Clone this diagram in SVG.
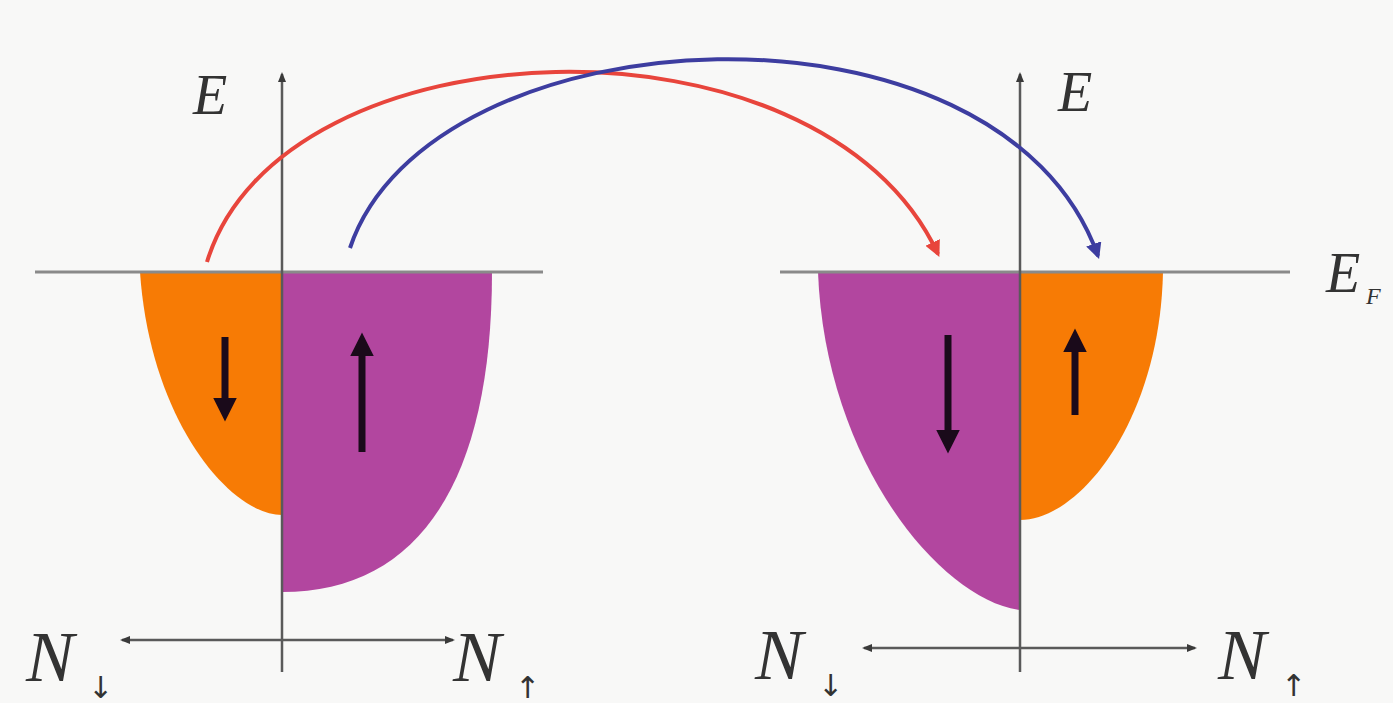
<svg xmlns="http://www.w3.org/2000/svg" width="1393" height="703" viewBox="0 0 1393 703">
<defs>
<style>
.bg{fill:#f8f8f7}
.orange{fill:#f77b05}
.purple{fill:#b2469f}
.axis{stroke:#5a5a5a;stroke-width:2.5;fill:none}
.fermi{stroke:#8a8a8a;stroke-width:3;fill:none}
.spin{stroke:#1a0a1a;stroke-width:7;fill:none}
.lbl{font-family:"Liberation Serif","DejaVu Serif",serif;font-style:italic;fill:#333}
.sub{font-family:"DejaVu Sans",sans-serif;fill:#333}
</style>
<marker id="ax" viewBox="0 0 10 10" refX="8" refY="5" markerWidth="4" markerHeight="4" orient="auto-start-reverse"><path d="M0,1 L10,5 L0,9 z" fill="#3a3a3a"/></marker>
<marker id="red" viewBox="0 0 10 10" refX="8" refY="5" markerWidth="4" markerHeight="4" orient="auto"><path d="M0,0 L10,5 L0,10 z" fill="#e8453c"/></marker>
<marker id="blue" viewBox="0 0 10 10" refX="8" refY="5" markerWidth="4" markerHeight="4" orient="auto"><path d="M0,0 L10,5 L0,10 z" fill="#3d3da0"/></marker>
<marker id="sp" viewBox="0 0 10 10" refX="6" refY="5" markerWidth="3.4" markerHeight="3.4" orient="auto"><path d="M0,0 L10,5 L0,10 z" fill="#1a0a1a"/></marker>
</defs>
<rect class="bg" x="0" y="0" width="1393" height="703"/>

<g id="left-band">
<path class="orange" d="M282,515 C230,515 150,420 140,272 L282,272 Z"/>
<path class="purple" d="M282,592 C420,592 492,480 492,272 L282,272 Z"/>
<line class="spin" x1="225" y1="337" x2="225" y2="412" marker-end="url(#sp)"/>
<line class="spin" x1="362" y1="452" x2="362" y2="342" marker-end="url(#sp)"/>
<line class="fermi" x1="35" y1="272" x2="543" y2="272"/>
<line class="axis" x1="282" y1="672" x2="282" y2="74" marker-end="url(#ax)"/>
<line class="axis" x1="122" y1="640" x2="453" y2="640" marker-start="url(#ax)" marker-end="url(#ax)"/>
<text class="lbl" x="193" y="114" font-size="56">E</text>
<text class="lbl" x="26" y="681" font-size="72">N</text>
<text class="sub" x="88" y="698" font-size="30">↓</text>
<text class="lbl" x="453" y="681" font-size="72">N</text>
<text class="sub" x="515" y="698" font-size="30">↑</text>
</g>

<g id="right-band">
<path class="purple" d="M1020,610 C940,600 825,460 818,272 L1020,272 Z"/>
<path class="orange" d="M1020,520 C1080,520 1160,420 1163,272 L1020,272 Z"/>
<line class="spin" x1="948" y1="335" x2="948" y2="444" marker-end="url(#sp)"/>
<line class="spin" x1="1075" y1="415" x2="1075" y2="338" marker-end="url(#sp)"/>
<line class="fermi" x1="780" y1="272" x2="1290" y2="272"/>
<line class="axis" x1="1020" y1="672" x2="1020" y2="74" marker-end="url(#ax)"/>
<line class="axis" x1="864" y1="648" x2="1195" y2="648" marker-start="url(#ax)" marker-end="url(#ax)"/>
<text class="lbl" x="1058" y="111" font-size="56">E</text>
<text class="lbl" x="1326" y="292" font-size="56">E</text>
<text class="lbl" x="1366" y="304" font-size="24">F</text>
<text class="lbl" x="755" y="679" font-size="72">N</text>
<text class="sub" x="818" y="696" font-size="30">↓</text>
<text class="lbl" x="1218" y="679" font-size="72">N</text>
<text class="sub" x="1281" y="696" font-size="30">↑</text>
</g>

<g id="connectors">
<path d="M207,262 C280,20 820,0 938,254" stroke="#e8453c" stroke-width="4" fill="none" marker-end="url(#red)"/>
<path d="M350,248 C430,10 1000,-20 1098,256" stroke="#3d3da0" stroke-width="4" fill="none" marker-end="url(#blue)"/>
</g>
</svg>
